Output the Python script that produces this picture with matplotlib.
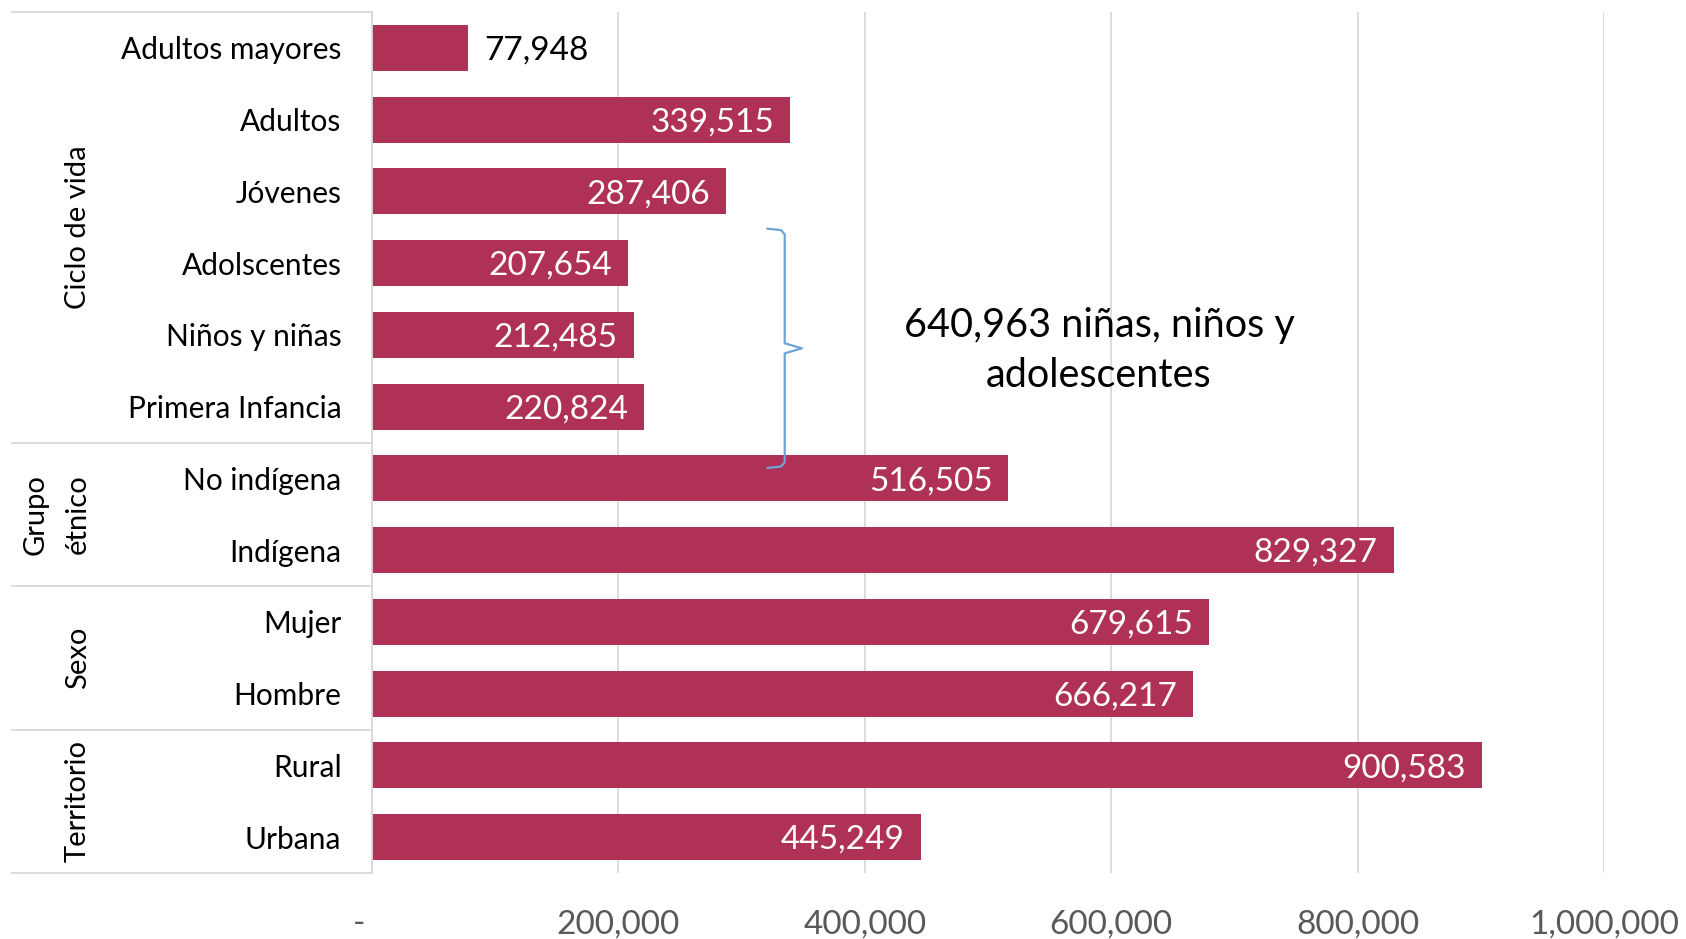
import matplotlib
matplotlib.use('Agg')
import matplotlib.pyplot as plt
import numpy as np

plt.rcParams['font.family'] = ['Lato', 'DejaVu Sans']

# data (top to bottom as in the chart)
categories = ['Adultos mayores', 'Adultos', 'Jóvenes', 'Adolscentes', 'Niños y niñas',
              'Primera Infancia', 'No indígena', 'Indígena', 'Mujer', 'Hombre',
              'Rural', 'Urbana']
values = [77948, 339515, 287406, 207654, 212485, 220824,
          516505, 829327, 679615, 666217, 900583, 445249]
groups = ['Ciclo de vida', 'Grupo\nétnico', 'Sexo', 'Territorio']
group_sizes = [6, 2, 2, 2]
xticks = [0, 200000, 400000, 600000, 800000, 1000000]
xticklabels = ['-   ', '200,000', '400,000', '600,000', '800,000', '1,000,000']
note = '640,963 niñas, niños y\nadolescentes'

bar_color = '#B03156'
grid_color = '#D9D9D9'
brace_color = '#6FA3D8'

fig = plt.figure(figsize=(16.86, 9.39), dpi=100)
ax = fig.add_axes([372/1686, 66/939, 1232/1686, 861/939])

y = np.arange(len(categories))
ax.barh(y, values, height=0.64, color=bar_color, zorder=2)
ax.set_xlim(0, 1000000)
ax.set_ylim(len(categories) - 0.5, -0.5)

ax.set_yticks(y)
ax.set_yticklabels(categories, fontsize=21.5)
ax.set_xticks(xticks)
ax.set_xticklabels(xticklabels, fontsize=24, color='#595959')
ax.tick_params(axis='y', length=0, pad=22)
ax.tick_params(axis='x', length=0, pad=26)

for s in ['top', 'right', 'bottom']:
    ax.spines[s].set_visible(False)
ax.spines['left'].set_color(grid_color)
ax.spines['left'].set_linewidth(1.3)
ax.set_axisbelow(True)
ax.xaxis.grid(True, color=grid_color, lw=1.3)

# value labels
for yi, v in zip(y, values):
    if v < 100000:
        ax.text(v + 13000, yi + 0.04, f'{v:,}', ha='left', va='center', fontsize=24, color='black')
    else:
        ax.text(v - 13000, yi + 0.04, f'{v:,}', ha='right', va='center', fontsize=24, color='white')

# group separators and group labels on the left
tr = ax.get_yaxis_transform()
x_left = (12 - 372) / 1232
bounds = np.concatenate([[0], np.cumsum(group_sizes)]) - 0.5
for b in bounds:
    ax.plot([x_left, 0], [b, b], transform=tr, color=grid_color, lw=1.3, clip_on=False)
for g, lo, hi in zip(groups, bounds[:-1], bounds[1:]):
    ax.text(-0.228, (lo + hi) / 2, g, transform=tr, rotation=90, ha='right', va='center',
            fontsize=21, linespacing=1.8)

# brace + annotation
bx, hx, tx = 335000, 321000, 349000
y0, y1 = 2.52, 5.855
ym = (y0 + y1) / 2
ax.plot([hx, bx - 3000, bx, bx, tx, bx, bx, bx - 3000, hx],
        [y0, y0 + 0.02, y0 + 0.08, ym - 0.07, ym, ym + 0.07, y1 - 0.08, y1 - 0.02, y1],
        color=brace_color, lw=1.6, zorder=3)
ax.text(590000, ym + 0.03, note, ha='center', va='center', fontsize=28.5, linespacing=1.45)

fig.savefig('out.png', dpi=100)
